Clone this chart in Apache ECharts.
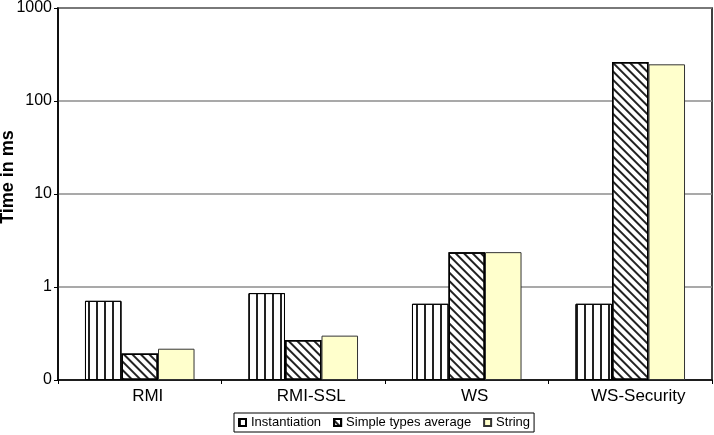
<!DOCTYPE html>
<html><head><meta charset="utf-8">
<script src="https://cdn.jsdelivr.net/npm/echarts@6/dist/echarts.min.js"></script>
<style>html,body{margin:0;padding:0;background:#fff}#c{width:714px;height:435px}</style>
</head><body><div id="c"></div>
<script>
const categories = ['RMI', 'RMI-SSL', 'WS', 'WS-Security'];
const instantiation = [0.71, 0.86, 0.66, 0.66];
const simpleTypes = [0.193, 0.27, 2.37, 262];
const stringVals = [0.217, 0.30, 2.37, 248];
const seriesNames = ['Instantiation', 'Simple types average', 'String'];
const yTitle = 'Time in ms';

const chart = echarts.init(document.getElementById('c'), null, {renderer: 'canvas'});
const font = 'Liberation Sans, Arial, sans-serif';
chart.setOption({
  animation: false,
  aria: {enabled: false},
  grid: {left: 58, right: 2, top: 7, bottom: 55, show: true, borderColor: '#000', borderWidth: 1.5, containLabel: false},
  graphic: [{
    type: 'text', x: 8, y: 177, rotation: Math.PI / 2,
    style: {text: yTitle, fill: '#000', font: 'bold 18px ' + font, align: 'center', verticalAlign: 'middle'}
  }],
  xAxis: {
    type: 'category', data: categories,
    axisLine: {lineStyle: {color: '#000', width: 1.5}},
    axisTick: {show: true, length: 4, lineStyle: {color: '#000'}},
    axisLabel: {color: '#000', fontSize: 17, fontFamily: font, margin: 8, padding: [0, 0, 0, 16]}
  },
  yAxis: {
    type: 'log', logBase: 10, min: 0.1, max: 1000, startValue: 0.1,
    axisLine: {show: true, lineStyle: {color: '#000', width: 1.5}},
    axisTick: {show: true, length: 4, lineStyle: {color: '#000'}},
    axisLabel: {color: '#000', fontSize: 16, fontFamily: font, margin: 6,
      formatter: v => v < 1 ? '0' : String(Math.round(v))},
    splitLine: {show: true, lineStyle: {color: '#8c8c8c', width: 1.5}}
  },
  legend: {
    data: seriesNames, left: 234, top: 413, icon: 'rect',
    itemWidth: 7, itemHeight: 7, itemGap: 12,
    padding: [3, 4], borderColor: '#000', borderWidth: 1,
    textStyle: {fontSize: 13, fontFamily: font, color: '#000'}
  },
  series: [
    {name: seriesNames[0], type: 'bar', data: instantiation, barGap: '0%', barCategoryGap: '33%',
     itemStyle: {color: '#fff', borderColor: '#000', borderWidth: 1,
       decal: {symbol: 'rect', dashArrayX: [1.2, 5.8], dashArrayY: [10, 0], color: '#222', rotation: 0}}},
    {name: seriesNames[1], type: 'bar', data: simpleTypes,
     itemStyle: {color: '#fff', borderColor: '#000', borderWidth: 1.5,
       decal: {symbol: 'rect', dashArrayX: [10, 0], dashArrayY: [1.3, 3.7], color: '#222', rotation: Math.PI / 4}}},
    {name: seriesNames[2], type: 'bar', data: stringVals,
     itemStyle: {color: '#ffffcc', borderColor: '#333', borderWidth: 1}}
  ]
});
</script></body></html>
